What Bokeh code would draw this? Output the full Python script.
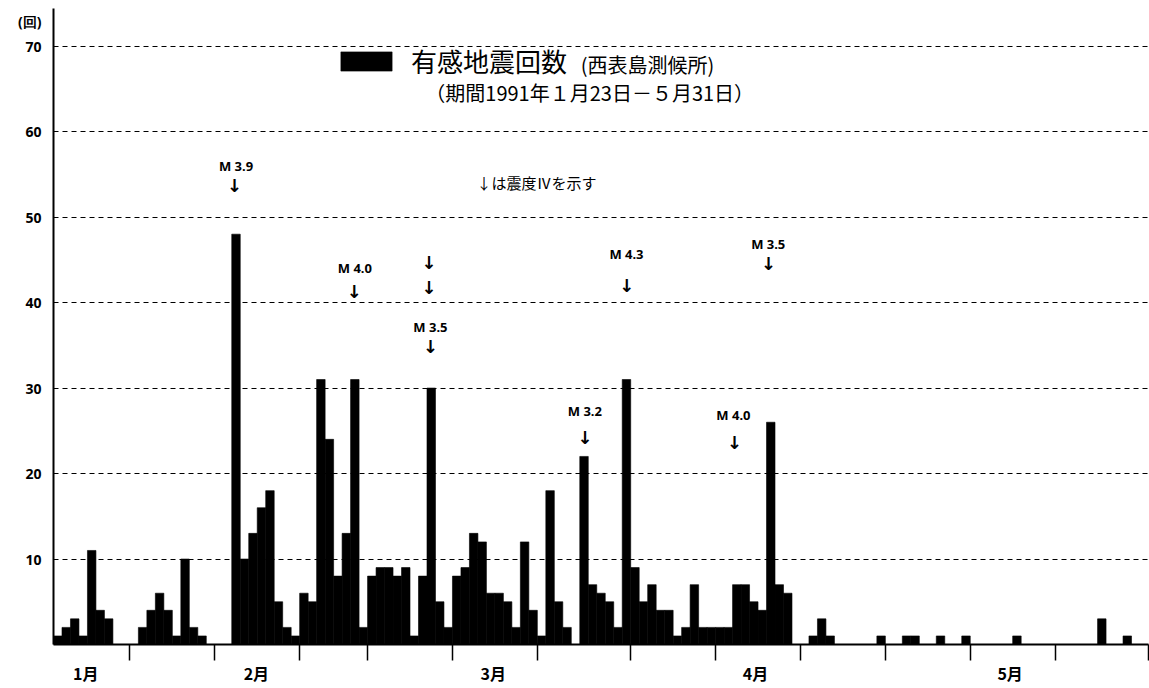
from bokeh.plotting import figure
from bokeh.models import (FixedTicker, Range1d, Legend, LegendItem, Label,
                          ColumnDataSource)
from bokeh.core.properties import value
from bokeh.embed import file_html
from bokeh.resources import INLINE

# ---- data: daily felt-earthquake counts, 1991-01-23 .. 1991-05-31 ----
counts = [
    1, 2, 3, 1, 11, 4, 3, 0, 0,                 # Jan 23-31
    0, 2, 4, 6, 4, 1, 10, 2, 1, 0,              # Feb 1-10
    0, 0, 48, 10, 13, 16, 18, 5, 2, 1,          # Feb 11-20
    6, 5, 31, 24, 8, 13, 31, 2,                 # Feb 21-28
    8, 9, 9, 8, 9, 1, 8, 30, 5, 2,              # Mar 1-10
    8, 9, 13, 12, 6, 6, 5, 2, 12, 4,            # Mar 11-20
    1, 18, 5, 2, 0, 22, 7, 6, 5, 2, 31,         # Mar 21-31
    9, 5, 7, 4, 4, 1, 2, 7, 2, 2,               # Apr 1-10
    2, 2, 7, 7, 5, 4, 26, 7, 6, 0,              # Apr 11-20
    0, 1, 3, 1, 0, 0, 0, 0, 0, 1,               # Apr 21-30
    0, 0, 1, 1, 0, 0, 1, 0, 0, 1,               # May 1-10
    0, 0, 0, 0, 0, 1, 0, 0, 0, 0,               # May 11-20
    0, 0, 0, 0, 0, 3, 0, 0, 1, 0, 0,            # May 21-31
]
day_centers = [d + 0.5 for d in range(len(counts))]

boundary_ticks = [9, 19, 29, 37, 47, 57, 68, 78, 88, 98, 108, 118, 129]
month_pos = [3.8, 23.9, 51.8, 82.7, 112.7]
month_labels = ["1月", "2月", "3月", "4月", "5月"]
y_ticks = [10, 20, 30, 40, 50, 60, 70]
unit_pos = 72.9
unit_label = "(回)"

mag_x = [21.5, 35.5, 44.4, 62.6, 67.5, 80.1, 84.2]
mag_y = [56.0, 44.0, 37.2, 27.3, 45.7, 26.9, 46.9]
mag_text = ["M 3.9", "M 4.0", "M 3.5", "M 3.2", "M 4.3", "M 4.0", "M 3.5"]

arrow_x = [21.3, 35.4, 44.2, 44.2, 44.4, 62.6, 67.5, 80.2, 84.2]
arrow_y = [53.7, 41.3, 44.7, 41.8, 34.9, 24.2, 42.0, 23.6, 44.6]

legend_label = "有感地震回数"
station_label = "(西表島測候所)"
period_label = "（期間1991年１月23日－５月31日）"
note_label = "↓は震度Ⅳを示す"

CJK = "Noto Sans CJK JP"

p = figure(width=1149, height=688, output_backend="svg", toolbar_location=None,
           x_range=Range1d(0, len(counts)), y_range=Range1d(0, 74.4),
           min_border_left=53, min_border_right=1, min_border_top=8,
           min_border_bottom=44)
p.outline_line_color = None
p.background_fill_color = "white"

src = ColumnDataSource(dict(x=day_centers, top=counts))
bars = p.vbar(x="x", top="top", width=1.0, source=src, fill_color="black",
              line_color="black", line_width=0.6)

# y axis (the unit mark sits on an extra tick at the top)
p.yaxis.ticker = FixedTicker(ticks=y_ticks + [unit_pos])
p.yaxis.major_label_overrides = {unit_pos: unit_label}
p.yaxis.major_tick_out = 0
p.yaxis.major_tick_in = 0
p.yaxis.minor_tick_out = 0
p.yaxis.minor_tick_in = 0
p.yaxis.axis_line_width = 2
p.yaxis.axis_line_color = "black"
p.yaxis.major_label_text_font = "Noto Sans"
p.yaxis.major_label_text_font_style = "bold"
p.yaxis.major_label_text_font_size = "14px"
p.yaxis.major_label_text_color = "black"
p.yaxis.major_label_standoff = 12

# x axis
p.xaxis.ticker = FixedTicker(ticks=month_pos, minor_ticks=boundary_ticks)
p.xaxis.major_label_overrides = {pos: lab for pos, lab in zip(month_pos, month_labels)}
p.xaxis.major_tick_out = 0
p.xaxis.major_tick_in = 0
p.xaxis.minor_tick_out = 16
p.xaxis.minor_tick_in = 0
p.xaxis.minor_tick_line_width = 1.5
p.xaxis.minor_tick_line_color = "black"
p.xaxis.axis_line_width = 2
p.xaxis.axis_line_color = "black"
p.xaxis.major_label_text_font = CJK
p.xaxis.major_label_text_font_style = "bold"
p.xaxis.major_label_text_font_size = "16px"
p.xaxis.major_label_text_color = "black"
p.xaxis.major_label_standoff = 0

p.xgrid.visible = False
p.ygrid.ticker = FixedTicker(ticks=y_ticks)
p.ygrid.grid_line_color = "black"
p.ygrid.grid_line_dash = "5 4"
p.ygrid.grid_line_width = 1

# magnitude labels and arrows
p.text(x=mag_x, y=mag_y, text=mag_text, text_font=value("Noto Sans"),
       text_font_style="bold", text_font_size="13px", text_align="center",
       text_baseline="middle", text_color="black")
p.text(x=arrow_x, y=arrow_y, text=["↓"] * len(arrow_x),
       text_font=value("DejaVu Sans"), text_font_style="bold",
       text_font_size="18px", text_align="center", text_baseline="middle",
       text_color="black")

# legend (area legend glyphs are drawn inset by 10% per side)
legend = Legend(items=[LegendItem(label=legend_label, renderers=[bars])],
                location=(281, 565), padding=0, margin=0, spacing=0,
                border_line_color=None, background_fill_alpha=0,
                glyph_width=64, glyph_height=24, label_standoff=13,
                label_height=24, label_text_font=CJK,
                label_text_font_size="26px", label_text_color="black")
p.add_layout(legend)

p.add_layout(Label(x=62.1, y=67.8, text=station_label, text_font=CJK,
                   text_font_size="20px", text_baseline="middle",
                   text_color="black"))
p.add_layout(Label(x=43.8, y=64.6, text=period_label, text_font=CJK,
                   text_font_size="20px", text_baseline="middle",
                   text_color="black"))
p.add_layout(Label(x=56.9, y=54.0, text=note_label, text_font=CJK,
                   text_font_size="15px", text_baseline="middle",
                   text_align="center", text_color="black"))

open("out.html", "w").write(file_html(p, INLINE))
